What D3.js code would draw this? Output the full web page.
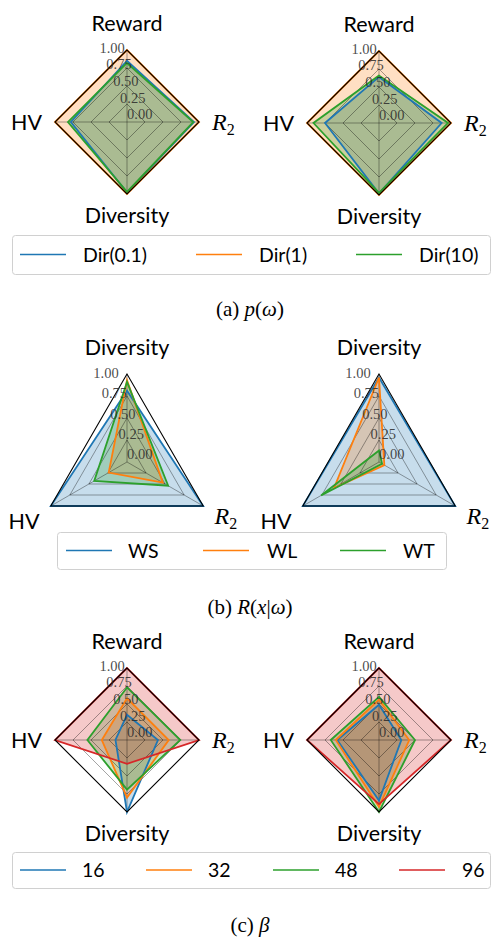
<!DOCTYPE html>
<html><head><meta charset="utf-8">
<script src="https://cdn.jsdelivr.net/npm/d3@7"></script>
<style>body{margin:0;background:#fff}</style>
</head><body><svg id="c" width="492" height="937"></svg>
<script>
// ---------- data ----------
const colors = ["#1f77b4", "#ff7f0e", "#2ca02c", "#d62728"];
const tickValues = [0, 0.25, 0.5, 0.75, 1.0];

const axes4 = ["Reward", "HV", "Diversity", "R2"];
const axes3 = ["Diversity", "HV", "R2"];

// (a) p(omega)
const seriesA = ["Dir(0.1)", "Dir(1)", "Dir(10)"];
const aLeftDir01 = [0.85, 0.78, 0.98, 0.93];
const aLeftDir1 = [1.0, 1.0, 1.0, 1.0];
const aLeftDir10 = [0.82, 0.82, 0.97, 0.92];
const aRightDir01 = [0.64, 0.75, 0.98, 0.87];
const aRightDir1 = [1.0, 1.0, 1.0, 1.0];
const aRightDir10 = [0.66, 0.91, 0.97, 0.96];

// (b) R(x|omega)
const seriesB = ["WS", "WL", "WT"];
const bLeftWS = [0.81, 1.0, 1.0];
const bLeftWL = [0.93, 0.24, 0.47];
const bLeftWT = [0.91, 0.43, 0.54];
const bRightWS = [0.96, 1.0, 1.0];
const bRightWL = [0.96, 0.59, 0.07];
const bRightWT = [0.13, 0.76, 0.04];

// (c) beta
const seriesC = ["16", "32", "48", "96"];
const cLeft16 = [0.35, 0.16, 1.0, 0.43];
const cLeft32 = [0.58, 0.35, 0.80, 0.58];
const cLeft48 = [0.73, 0.55, 0.69, 0.74];
const cLeft96 = [1.0, 1.0, 0.33, 1.0];
const cRight16 = [0.49, 0.58, 0.84, 0.31];
const cRight32 = [0.56, 0.60, 0.93, 0.42];
const cRight48 = [0.60, 0.67, 1.0, 0.50];
const cRight96 = [1.0, 1.0, 0.89, 1.0];

// ---------- drawing ----------
const svg = d3.select("#c");
svg.append("rect").attr("width", 492).attr("height", 937).attr("fill", "#fff");

const sansFont = "Lato, 'Open Sans', sans-serif";
const serifFont = "'Liberation Serif', 'DejaVu Serif', serif";

function radar(cx, cy, R, axes, data) {
  const g = svg.append("g");
  const n = axes.length;
  const r = d3.scaleLinear().domain([0, 1]).range([0, R]);
  const ang = i => -Math.PI / 2 - i * 2 * Math.PI / n;
  const pt = (i, v) => [cx + r(v) * Math.cos(ang(i)), cy + r(v) * Math.sin(ang(i))];
  const poly = vals => vals.map((v, i) => pt(i, v));
  const line = d3.line().curve(d3.curveLinearClosed);

  // fills
  data.forEach((vals, k) => {
    g.append("path").attr("d", line(poly(vals)))
      .attr("fill", colors[k]).attr("fill-opacity", 0.25).attr("stroke", "none");
  });
  // grid
  tickValues.filter(t => t > 0 && t < 1).forEach(t => {
    g.append("path").attr("d", line(axes.map((a, i) => pt(i, t))))
      .attr("fill", "none").attr("stroke", "#000").attr("stroke-opacity", 0.45).attr("stroke-width", 0.8);
  });
  axes.forEach((a, i) => {
    const p = pt(i, 1);
    g.append("line").attr("x1", cx).attr("y1", cy).attr("x2", p[0]).attr("y2", p[1])
      .attr("stroke", "#000").attr("stroke-opacity", 0.45).attr("stroke-width", 0.8);
  });
  // lines
  data.forEach((vals, k) => {
    g.append("path").attr("d", line(poly(vals)))
      .attr("fill", "none").attr("stroke", colors[k]).attr("stroke-width", 1.8)
      .attr("stroke-linejoin", "miter");
  });
  // frame
  g.append("path").attr("d", line(axes.map((a, i) => pt(i, 1))))
    .attr("fill", "none").attr("stroke", "#000").attr("stroke-width", 1.1);
  // radial tick labels
  const la = 22.5 * Math.PI / 180;
  tickValues.forEach(t => {
    g.append("text")
      .attr("x", cx - r(t) * Math.sin(la))
      .attr("y", cy - r(t) * Math.cos(la) - 6)
      .attr("dominant-baseline", "middle")
      .attr("font-family", serifFont).attr("font-size", 14.5)
      .attr("fill", "#2a2a2a").attr("fill-opacity", 0.85)
      .text(t.toFixed(2));
  });
  // axis labels
  axes.forEach((a, i) => {
    const ux = Math.cos(ang(i)), uy = Math.sin(ang(i));
    const vx = cx + R * ux, vy = cy + R * uy;
    const pad = 13;
    let x = vx + pad * ux, y = vy + pad * uy;
    let anchor = ux > 0.3 ? "start" : ux < -0.3 ? "end" : "middle";
    if (uy < -0.3) y = y - 6;
    else if (uy > 0.3) y = y + 16;
    else y = cy + 7.5;
    const t = g.append("text").attr("x", x).attr("y", y).attr("text-anchor", anchor)
      .attr("font-size", 21.5).attr("fill", "#000");
    if (a === "R2") {
      if (uy > 0.3) t.attr("y", y - 5);
      t.attr("font-family", serifFont);
      t.append("tspan").attr("font-style", "italic").attr("font-size", 24).text("R");
      t.append("tspan").attr("font-size", 16).attr("dy", 5).text("2");
    } else {
      t.attr("font-family", sansFont).text(a);
    }
  });
}

function legend(x0, x1, y0, y1, names, lineXs, textXs) {
  svg.append("rect").attr("x", x0 + 0.5).attr("y", y0 + 0.5)
    .attr("width", x1 - x0).attr("height", y1 - y0).attr("rx", 3)
    .attr("fill", "#fff").attr("fill-opacity", 0.8).attr("stroke", "#d0d0d0").attr("stroke-width", 1);
  const ym = (y0 + y1) / 2;
  names.forEach((nm, k) => {
    svg.append("line").attr("x1", lineXs[k]).attr("x2", lineXs[k] + 46)
      .attr("y1", ym).attr("y2", ym).attr("stroke", colors[k]).attr("stroke-width", 1.5);
    svg.append("text").attr("x", textXs[k]).attr("y", ym + 7)
      .attr("font-family", sansFont).attr("font-size", 19.5).attr("fill", "#000").text(nm);
  });
}

function caption(x, y, parts) {
  const t = svg.append("text").attr("x", x).attr("y", y).attr("text-anchor", "middle")
    .attr("font-family", serifFont).attr("font-size", 21).attr("fill", "#000");
  parts.forEach(p => {
    t.append("tspan").attr("font-style", p[1] ? "italic" : "normal").text(p[0]);
  });
}

// (a)
radar(127, 122, 72, axes4, [aLeftDir01, aLeftDir1, aLeftDir10]);
radar(379, 123, 72, axes4, [aRightDir01, aRightDir1, aRightDir10]);
legend(12, 490, 235, 274, seriesA, [20, 196, 356], [83, 259, 419]);
caption(250, 316, [["(a) ", false], ["p", true], ["(", false], ["ω", true], [")", false]]);

// (b)
radar(127, 462, 88, axes3, [bLeftWS, bLeftWL, bLeftWT]);
radar(379, 462, 88, axes3, [bRightWS, bRightWL, bRightWT]);
legend(57, 446, 532, 569, seriesB, [66, 203, 340], [128, 267, 403]);
caption(250, 614, [["(b) ", false], ["R", true], ["(", false], ["x", true], ["|", false], ["ω", true], [")", false]]);

// (c)
radar(127, 740, 72, axes4, [cLeft16, cLeft32, cLeft48, cLeft96]);
radar(379, 740, 72, axes4, [cRight16, cRight32, cRight48, cRight96]);
legend(12, 490, 852, 888, seriesC, [20, 146, 273, 399], [82, 208, 335, 462]);
caption(250, 932, [["(c) ", false], ["β", true]]);
</script></body></html>
